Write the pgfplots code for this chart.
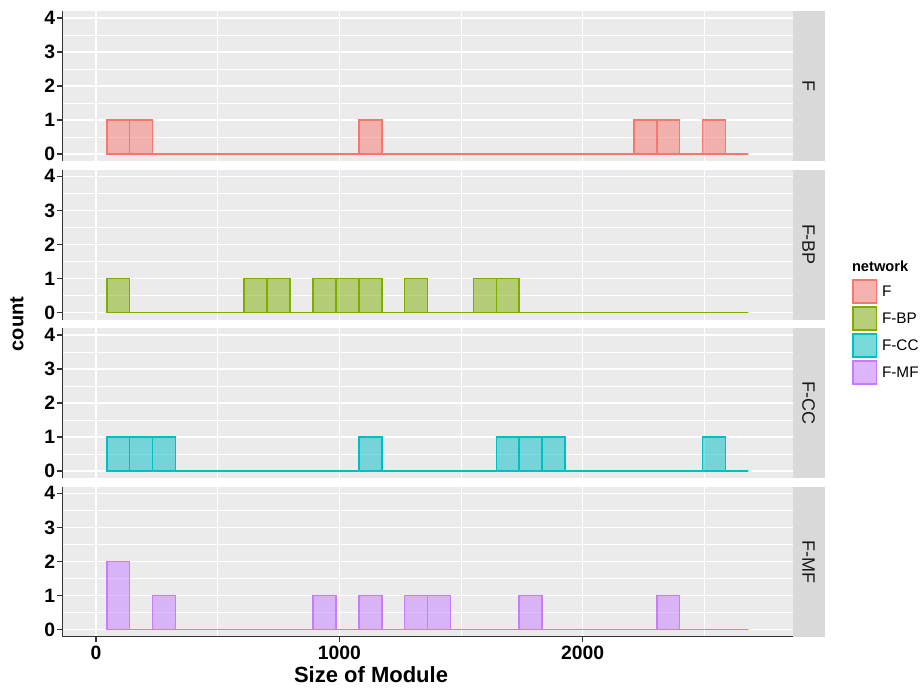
\documentclass[border=0pt]{standalone}
\usepackage{pgfplots}
\usepackage{pgfplotstable}
\pgfplotsset{compat=1.18}
\usepackage{fontspec}
\setmainfont{Liberation Sans}

\definecolor{cF}{HTML}{F8766D}
\definecolor{cBP}{HTML}{7CAE00}
\definecolor{cCC}{HTML}{00BFC4}
\definecolor{cMF}{HTML}{C77CFF}
\definecolor{panelbg}{HTML}{EBEBEB}
\definecolor{stripbg}{HTML}{D9D9D9}
\definecolor{axcol}{HTML}{333333}

\pgfplotstableread{
edge F FBP FCC FMF
44.0 1 1 1 2
138.2 1 0 1 0
232.4 0 0 1 1
326.5 0 0 0 0
420.7 0 0 0 0
514.9 0 0 0 0
609.1 0 1 0 0
703.3 0 1 0 0
797.4 0 0 0 0
891.6 0 1 0 1
985.8 0 1 0 0
1080.0 1 1 1 1
1174.1 0 0 0 0
1268.3 0 1 0 1
1362.5 0 0 0 1
1456.7 0 0 0 0
1550.9 0 1 0 0
1645.0 0 1 1 0
1739.2 0 0 1 1
1833.4 0 0 1 0
1927.6 0 0 0 0
2021.8 0 0 0 0
2115.9 0 0 0 0
2210.1 1 0 0 0
2304.3 1 0 0 1
2398.5 0 0 0 0
2492.7 1 0 1 0
2586.8 0 0 0 0
2681.0 0 0 0 0
}\datatable

\pgfplotsset{
  panel/.style={
    scale only axis,
    width=547.8pt, height=112.5pt,
    xmin=-138.5, xmax=2863,
    ymin=-0.2, ymax=4.2,
    enlargelimits=false,
    axis background/.style={fill=panelbg},
    axis x line*=bottom, axis y line*=left,
    x axis line style={draw=none},
    y axis line style={draw=axcol, line width=1.2pt},
    xtick={0,1000,2000}, minor xtick={500,1500,2500},
    ytick={0,1,2,3,4}, minor ytick={0.5,1.5,2.5,3.5},
    grid=both,
    major grid style={white, line width=1.1pt},
    minor grid style={white, line width=0.5pt},
    tick align=outside,
    major tick length=3.75pt, minor tick length=0pt,
    ytick style={draw=axcol, line width=1.1pt},
    xtick style={draw=none},
    xticklabels={},
    /pgf/number format/assume math mode=true,
    ticklabel style={font=\bfseries\fontsize{14.5}{16}\selectfont, text=black},
    yticklabel style={inner sep=1.5pt},
    clip=false,
  },
  hist/.style={ybar interval, draw=#1, fill=#1, fill opacity=0.5, line width=1.2pt},
}

\newcommand{\strip}[1]{%
  \fill[stripbg] (rel axis cs:1,0) rectangle (rel axis cs:1.04354,1);
  \node[rotate=-90, font=\fontsize{13.5}{16}\selectfont, text=black!90] at (rel axis cs:1.02177,0.5) {#1};
}

\begin{document}
\begin{tikzpicture}
\path (0,0) rectangle (690.75pt,514.5pt);

\begin{axis}[panel, at={(46.725pt,393.75pt)}, anchor=south west]
\addplot[hist=cF] table[x=edge, y=F] {\datatable};
\strip{F}
\end{axis}

\begin{axis}[panel, at={(46.725pt,274.875pt)}, anchor=south west]
\addplot[hist=cBP] table[x=edge, y=FBP] {\datatable};
\strip{F-BP}
\end{axis}

\begin{axis}[panel, at={(46.725pt,156pt)}, anchor=south west]
\addplot[hist=cCC] table[x=edge, y=FCC] {\datatable};
\strip{F-CC}
\end{axis}

\begin{axis}[panel, at={(46.725pt,37.125pt)}, anchor=south west,
  x axis line style={draw=axcol, line width=1.2pt},
  xtick style={draw=axcol, line width=1.1pt},
  xticklabels={0,1000,2000}]
\addplot[hist=cMF] table[x=edge, y=FMF] {\datatable};
\strip{F-MF}
\end{axis}

% axis titles
\node[rotate=90, font=\bfseries\fontsize{15}{18}\selectfont] at (12.75pt,271.5pt) {count};
\node[font=\bfseries\fontsize{16.5}{19}\selectfont] at (278.25pt,8.5pt) {Size of Module};

% legend
\node[anchor=west, font=\bfseries\fontsize{11}{13}\selectfont, inner sep=0pt] at (638.8pt,315.0pt) {network};
\foreach \c/\lab [count=\i from 0] in {cF/F, cBP/F-BP, cCC/F-CC, cMF/F-MF}{
  \fill[black!5] (638.8pt,305.25pt-\i*20.25pt) rectangle ++(19.5pt,-18.75pt);
  \draw[draw=\c, fill=\c, fill opacity=0.5, line width=1.1pt]
    (639.6pt,304.45pt-\i*20.25pt) rectangle ++(17.9pt,-17.15pt);
  \node[anchor=west, inner sep=0pt, font=\fontsize{11.5}{13}\selectfont]
    at (661.3pt,295.9pt-\i*20.25pt) {\lab};
}
\end{tikzpicture}
\end{document}
